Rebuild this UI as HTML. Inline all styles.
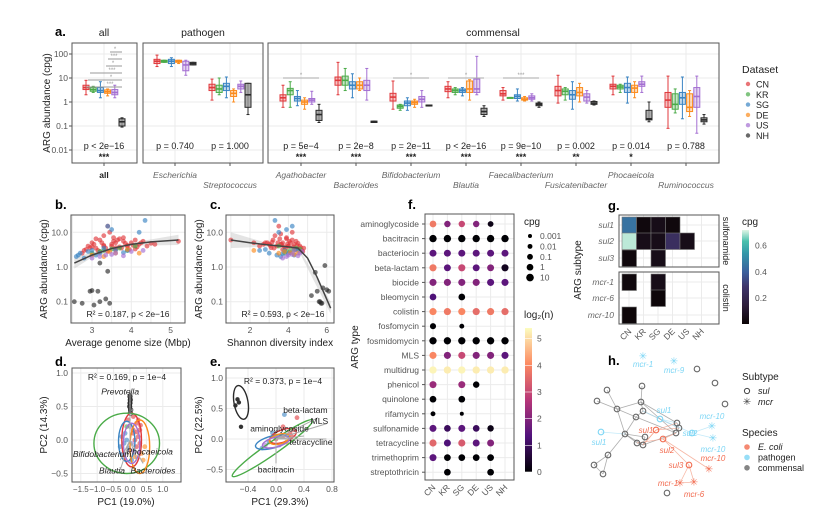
<!DOCTYPE html>
<html><head><meta charset="utf-8"><style>
body{margin:0;background:#fff}
svg{display:block;font-family:"Liberation Sans",sans-serif}
</style></head><body>
<svg id="fig" width="831" height="511" viewBox="0 0 831 511" xmlns="http://www.w3.org/2000/svg"></svg>
<script>
// ---------- Panel a data ----------
const datasets=["CN","KR","SG","DE","US","NH"];
const dsColors=["#e0393c","#4aab48","#3a84c3","#fb8b1d","#a46fd2","#2a2a2a"];
const groups=["all","Escherichia","Streptococcus","Agathobacter","Bacteroides","Bifidobacterium","Blautia","Faecalibacterium","Fusicatenibacter","Phocaeicola","Ruminococcus"];
const groupPvals=["p < 2e\u221216","p = 0.740","p = 1.000","p = 5e\u22124","p = 2e\u22128","p = 2e\u221211","p < 2e\u221216","p = 9e\u221210","p = 0.002","p = 0.014","p = 0.788"];
const groupStars=["***","","","***","***","***","***","***","**","*",""];
const med=[[4,3.3,3,2.7,2.5,0.15],[50,50,50,50,35,40],[4,3.5,4.5,2.3,4.5,2],[1.5,3,1.4,1,1.2,0.3],[8,8,5,5,5,0.15],[1.6,0.65,0.9,0.95,1.3,0.7],[3.5,3,3,3.5,3.5,0.4],[2.2,1.5,1.7,1.3,1.5,0.8],[3,2.8,2,2.5,1.6,0.9],[4.5,4.2,4,3.8,5.5,0.2],[1.2,0.8,1.5,0.6,1.7,0.18]];
const q1=[[3.3,2.8,2.5,2.3,2,0.1],[40,45,40,45,20,35],[3,2.5,3,1.7,3.5,0.6],[1.1,2,1.1,0.8,1,0.17],[5,5,3.5,3.5,3,0.14],[1.1,0.55,0.7,0.8,1,0.68],[2.7,2.5,2.5,2.5,2.5,0.3],[1.8,1.48,1.4,1.2,1.3,0.7],[1.8,2,1.3,1.8,1.1,0.8],[3.5,3.5,2.5,2.5,4.5,0.18],[0.6,0.5,0.8,0.4,0.6,0.15]];
const q3=[[5,4,4,3.2,3.3,0.2],[60,55,60,55,50,45],[5.5,5,6,3,5.5,6],[2,3.7,1.7,1.2,1.4,0.45],[11,12,7,7,8,0.16],[2.3,0.75,1.1,1.1,1.7,0.75],[4.5,3.5,3.5,7.5,9,0.55],[3,1.55,2,1.5,1.8,0.9],[4.5,3.5,3,4,2.2,1.05],[5.5,5,6,5,7,0.45],[2.5,2.2,2.5,2.2,4,0.22]];
const wlo=[[2,2.5,1.5,1.8,1.5,0.09],[30,45,30,40,13,35],[1.2,2,1.5,1,2.5,0.3],[0.6,0.6,0.7,0.5,0.8,0.14],[2,3,1.5,3,1.2,0.14],[0.5,0.45,0.45,0.6,0.6,0.68],[1.5,2,1.8,1.2,2,0.25],[1.2,1.48,1.1,1.1,1.1,0.6],[0.9,1.2,0.5,1,0.9,0.75],[2,2.5,0.9,1.5,2.5,0.15],[0.08,0.35,0.2,0.25,0.05,0.12]];
const whi=[[8,4.5,7,3.5,5,0.22],[90,55,70,55,55,45],[9,10,11,3.5,7.5,6],[5,7,3,1.5,2.8,0.8],[45,25,15,10,25,0.16],[7.5,0.8,1.5,1.3,3,0.75],[7,4,4,8.5,80,0.7],[4,1.55,3.5,1.7,2.2,1],[13,4,7,6,3,1.1],[12,5.5,11,7,12,1],[12,3.5,11,3,12,0.3]];
const groupCenters=[104,175,230,301,356,411,466,521,576,631,686];
const aTicks=[100,10,1,0.1,0.01];
const aTickLabels=["100","10","1","0.1","0.01"];

// ---------- Panel b/c data ----------
const bX=[[2.8,2.9,3.0,3.1,3.2,3.3,3.4,3.5,3.6,3.7,3.8,3.9,4.0,4.1,4.2,4.3,4.5,5.2,3.0,3.3,3.6,3.45,3.9,3.2,2.95,3.7,4.1,4.4,3.55,2.75,3.05,3.15,3.25,3.35,3.5,3.65,3.75,3.85,3.95,4.05,4.15,4.25,3.1,3.4,3.8,4.6,2.85,3.55,3.3,3.6],[3.0,3.3,3.7,4.1,3.5,3.9,3.2],[2.6,2.7,2.8,3.0,3.2,3.4,3.5,3.6,4.2,4.35,3.9,3.1,2.65,2.9,3.3,3.8],[3.3,3.6,3.9,4.2,3.0,3.45],[3.2,3.5,3.8,4.0,4.3,3.0,3.6,3.35],[2.55,2.75,2.95,3.0,3.05,3.15,3.2,3.35,3.4,3.45,3.2]];
const bY=[[3,4,5,3.5,6,4,15,4.5,5,3.8,7,4,5,6,4.5,5.5,4.8,5.5,3.8,8,3.2,10,4.2,2.8,3.6,6.5,3.3,4,5.5,2.5,4.5,3,5,3.5,4,6,3.5,4.8,3.2,4.2,3.8,5,6.5,2.8,5.5,4.5,3.2,7,4.2,3.6],[2.5,3,3.5,4,3.3,3,2.8],[2,2.5,1.8,3,2.5,15,12,3,10,22,3,2.2,2.2,2.8,3.5,2.6],[2,2.5,3.2,2.5,2.2,2.8],[2,2.3,2.1,2.8,3,1.8,2.5,2.2],[0.1,0.09,0.2,0.21,0.08,0.2,0.1,0.12,0.75,0.09,1.3]];
const bFitX=[2.55,3,3.5,4,4.5,5.2];
const bFitY=[1.3,2.2,3.4,4.5,5.3,6];
const cX=[[1,2.5,2.8,3,3.2,3.4,3.5,3.6,3.7,3.8,3.9,4,4.1,4.2,4.3,4.4,4.5,4.6,4.7,3.3,3.7,4.2,2.2,3.1,4.8,3.9,4.4,3.6,4.0,2.9,3.05,3.25,3.45,3.65,3.85,4.05,4.25,4.45,4.65,3.15,3.55,3.95,4.35,4.75,2.7],[3.8,4.1,4.4,3.5,4.6,3.9,4.3],[2.5,3,3.4,3.6,3.8,4,4.2,4.5,3.3,3.9,4.3,3.5,3.7,4.1,2.8],[2.2,3.5,4.1,4.5,3.8,4.3],[3.9,4.2,4.5,4.7,4.3,3.7,4.0,4.6],[5.2,5.5,5.6,5.7,5.8,5.9,6.0,6.1,5.4,5.65,5.75]];
const cY=[[6,4,5,4.5,6,4,15,4.5,5,3.8,7,4,5,6,4.5,5.5,4.8,4,3,8,3.2,10,5,3.6,3.5,6.5,3.3,9,4,5,4.2,3.5,5,4.5,3.4,5.5,3.8,4.2,3.6,5.2,6.5,4.6,3.2,2.8,4.5],[2.5,3,3.5,4,3.3,2.8,3.1],[3,2.5,2.2,2,3,2.5,15,3,22,12,2.2,10,2.4,2.6,3.2],[3,2.5,2.6,2.5,2.8,2.3],[2,2.3,2.1,2.8,3,1.8,2.2,2.5],[0.15,0.2,0.1,0.09,0.25,1.1,0.22,0.2,0.7,0.1,0.09]];
const cFitX=[1,2,3,4,4.5,5,5.5,6.2];
const cFitY=[6,5,4.3,3.8,3.5,1.8,0.5,0.065];

// ---------- Panel d/e data ----------
const dPtsX=[0.1,-0.1,0.2,0.0,-0.2,0.3,0.15,-0.05,0.05,0.25,-0.15,0.35,0.4,0.1,-0.25,0.2,0.0,0.3,-0.1,0.15,0.05,0.45,-0.3,0.1,0.25,-0.05,0.12,0.22,-0.18,0.32];
const dPtsY=[0.1,0.0,-0.1,0.2,-0.2,0.15,-0.25,0.3,-0.05,0.05,0.1,-0.2,-0.3,0.35,0.05,0.25,-0.15,-0.05,0.2,0.0,-0.3,-0.1,-0.1,0.15,0.3,-0.12,-0.18,0.12,-0.05,0.22];
const dPtsC=[0,2,0,4,2,0,3,0,4,0,2,3,3,0,2,0,4,0,1,0,2,3,2,0,0,2,4,0,2,0];
const dNhX=[0,0.01,-0.01,0.02,0,0.01];
const dNhY=[0.55,0.6,0.5,0.45,0.65,0.4];
const dEllCx=[0.05,-0.1,-0.1,0.3,0.05,0.0];
const dEllCy=[0.0,-0.05,-0.02,-0.1,-0.05,0.55];
const dEllRx=[0.3,1.0,0.25,0.3,0.25,0.04];
const dEllRy=[0.4,0.45,0.3,0.4,0.3,0.15];
const dArrowName=["Prevotella","Bifidobacterium","Blautia","Phocaeicola","Bacteroides"];
const dArrowX=[0.0,-0.3,-0.3,0.2,0.4];
const dArrowY=[0.75,-0.3,-0.45,-0.3,-0.35];
const ePtsX=[-0.1,0,0.1,0.2,0.05,-0.05,0.15,0.25,0.3,-0.15,0.1,0.0,0.2,0.12,-0.2,0.22];
const ePtsY=[-0.05,0.0,0.05,0.1,-0.1,0.1,-0.05,0.15,0.35,-0.1,0.2,0.05,0.0,0.4,-0.15,0.05];
const ePtsC=[2,0,0,0,4,2,3,0,0,4,0,1,0,2,2,0];
const eNhX=[-0.55,-0.53,-0.58,-0.5];
const eNhY=[0.65,0.6,0.55,0.2];
const eEllCx=[0.1,-0.05,-0.05,0.05,0.0,-0.5];
const eEllCy=[0.05,-0.15,-0.05,0.0,-0.05,0.6];
const eEllRx=[0.2,0.7,0.25,0.15,0.2,0.1];
const eEllRy=[0.1,0.1,0.1,0.08,0.08,0.28];
const eEllAng=[-20,-35,-15,-15,-15,-10];
const eArrowName=["beta-lactam","MLS","tetracycline","aminoglycoside","bacitracin"];
const eArrowX=[0.6,0.72,0.72,0.4,0.0];
const eArrowY=[0.35,0.25,0.0,0.05,-0.4];

// ---------- Panel f data ----------
const argTypes=["aminoglycoside","bacitracin","bacteriocin","beta-lactam","biocide","bleomycin","colistin","fosfomycin","fosmidomycin","MLS","multidrug","phenicol","quinolone","rifamycin","sulfonamide","tetracycline","trimethoprim","streptothricin"];
const fLog2=[[3.8,2,3,2,0.2,null],[0,0,0,0,0,0],[1.5,1.5,1.5,1.5,1.5,1.5],[3.8,1.5,3,1.5,2,0.3],[2,2,2,2,1.5,1.5],[1.3,null,0,null,null,null],[4,3.8,4,3.6,3.8,3.6],[0,null,0,null,null,null],[0,0,0,0,0,0],[4,2,3,2,2,1.5],[5.3,5.2,5.3,5.2,5.2,5.2],[2.3,null,2.3,0,null,null],[0,null,0,null,null,null],[0,null,0,null,null,null],[1.5,1,1.5,1,0.2,null],[3.5,1.3,3.3,1.5,2,null],[1.5,0,0,0,0,null],[null,0,null,null,0,null]];
const fCpg=[[1,0.5,0.5,0.5,0.1,null],[5,5,5,5,5,5],[2,2,2,2,2,2],[3,2,3,2,2,3],[3,3,3,3,3,3],[1,null,1,null,null,null],[3,3,3,3,3,3],[0.2,null,0.01,null,null,null],[5,5,5,5,5,5],[3,3,3,3,3,3],[5,5,5,5,5,5],[2,null,2,0.5,null,null],[1,null,1,null,null,null],[0.01,null,0.001,null,null,null],[2,1,2,1,0.5,null],[3,2,3,2,2,null],[2,1,1,1,1,null],[null,1,null,null,1,null]];
const sizeLegend=[0.001,0.01,0.1,1,10];
const log2Ticks=[0,1,2,3,4,5];

// ---------- Panel g data ----------
const subtypes=["sul1","sul2","sul3","mcr-1","mcr-6","mcr-10"];
const gVals=[[0.45,0.02,0.05,0.02,null,null],[0.7,0.05,0.05,0.25,0.05,null],[0.02,null,0.05,null,null,null],[0.02,null,0.05,null,null,null],[null,null,0.01,null,null,null],[0.01,null,null,null,null,null]];
const gTicks=[0.2,0.4,0.6];

// ---------- Panel h data ----------
const hX=[697,715,725,642,607,597,617,641,643,636,625,637,643,645,677,679,676,608,594,603,667, 643,674,660,692,601,712,713, 656,663,689,709,680,694];
const hY=[369,383,404,386,390,401,409,402,411,417,434,443,445,437,423,428,433,455,465,474,493, 356,361,419,433,432,426,438, 430,439,465,469,483,482];
const hSpecies=[2,2,2,2,2,2,2,2,2,2,2,2,2,2,2,2,2,2,2,2,2, 1,1,1,1,1,1,1, 0,0,0,0,0,0];
const hStar=[0,0,0,0,0,0,0,0,0,0,0,0,0,0,0,0,0,0,0,0,0, 1,1,0,0,0,1,1, 0,0,0,1,1,1];
const hLabel=["","","","","","","","","","","","","","","","","","","","","", "mcr-1","mcr-9","sul1","sul2","sul1","mcr-10","mcr-10", "sul1","sul2","sul3","mcr-10","mcr-1","mcr-6"];
const hLabDx=[0,0,0,0,0,0,0,0,0,0,0,0,0,0,0,0,0,0,0,0,0, 0,0,4,-2,-2,0,0, -10,4,-13,4,-12,0];
const hLabDy=[0,0,0,0,0,0,0,0,0,0,0,0,0,0,0,0,0,0,0,0,0, 11,12,-6,3,13,-7,14, 3,14,3,-8,3,15];
const hEdgeA=[3,4,5,6,6,7,8,9,10,10,11,12,13,6,7,8,9,14,15,16,17,17,18,10,23,23,23,24,24,25,28,28,28,29,29,30,30,30,31,32,8,12,7];
const hEdgeB=[7,6,6,7,10,8,9,10,11,12,12,13,10,9,14,15,16,15,16,12,18,19,19,17,14,15,24,26,27,10,14,15,12,16,11,29,32,33,29,33,23,28,16];

// ---------- helpers ----------
const svg=document.getElementById('fig');
const NS="http://www.w3.org/2000/svg";
function mk(tag,attrs,parent){const e=document.createElementNS(NS,tag);for(const k in attrs)e.setAttribute(k,attrs[k]);(parent||svg).appendChild(e);return e;}
function txt(s,x,y,opt,parent){const o=Object.assign({x:x,y:y,'font-size':9,fill:'#333'},opt||{});const t=mk('text',o,parent);t.textContent=s;return t;}
function lerpHex(stops,t){t=Math.max(0,Math.min(1,t));for(let i=1;i<stops.length;i++){if(t<=stops[i][0]){const a=stops[i-1],b=stops[i];const f=(t-a[0])/(b[0]-a[0]);const ca=a[1].match(/\w\w/g).map(h=>parseInt(h,16)),cb=b[1].match(/\w\w/g).map(h=>parseInt(h,16));return 'rgb('+ca.map((v,j)=>Math.round(v+(cb[j]-v)*f)).join(',')+')';}}return stops[stops.length-1][1];}
const magma=[[0,'#000004'],[0.25,'#51127c'],[0.5,'#b73779'],[0.75,'#fc8961'],[1,'#fcfdbf']];
const mako=[[0,'#0b0405'],[0.2,'#2e1e3c'],[0.4,'#3e356b'],[0.55,'#3b5e9c'],[0.75,'#3497a9'],[0.88,'#49c1ad'],[1,'#def5e5']];

// ---------- Panel a ----------
const ay=v=>102-24*Math.log10(v);
const aPanels=[[72,137,"all",104],[143,263,"pathogen",203],[268,719,"commensal",493]];
txt("a.",55,36,{'font-size':13,'font-weight':'bold',fill:'#000'});
aPanels.forEach((p,pi)=>{
  const g=mk('g',{});
  
  
  mk('rect',{x:p[0],y:43,width:p[1]-p[0],height:120,fill:'#fff'},g);
  aTicks.forEach(v=>mk('line',{x1:p[0],x2:p[1],y1:ay(v),y2:ay(v),stroke:'#ebebeb','stroke-width':1},g));
  groupCenters.forEach(c=>{if(c>p[0]&&c<p[1])mk('line',{x1:c,x2:c,y1:43,y2:163,stroke:'#ebebeb'},g);});
  mk('rect',{x:p[0],y:43,width:p[1]-p[0],height:120,fill:'none',stroke:'#555','stroke-width':1},g);
  const t=txt(p[2],p[3],36,{'font-size':10.5,'text-anchor':'middle',fill:'#222'});
  
});
aTicks.forEach((v,i)=>{
  const t=txt(aTickLabels[i],68,ay(v)+3,{'text-anchor':'end','font-size':8.5,fill:'#555'});
  
  mk('line',{x1:69,x2:72,y1:ay(v),y2:ay(v),stroke:'#555'});
});
const aYT=txt("ARG abundance (cpg)",0,0,{'font-size':10,'text-anchor':'middle',fill:'#222',transform:'translate(50,103) rotate(-90)'});

groups.forEach((gname,gi)=>{
  const c=groupCenters[gi];
  const g=mk('g',{});
  
  
  datasets.forEach((d,di)=>{
    const x=c+(di-2.5)*7.2;const col=dsColors[di];
    const b=mk('g',{},g);
    
    
    mk('line',{x1:x,x2:x,y1:ay(wlo[gi][di]),y2:ay(whi[gi][di]),stroke:col,'stroke-width':1},b);
    mk('line',{x1:x-1.5,x2:x+1.5,y1:ay(wlo[gi][di]),y2:ay(wlo[gi][di]),stroke:col},b);
    mk('line',{x1:x-1.5,x2:x+1.5,y1:ay(whi[gi][di]),y2:ay(whi[gi][di]),stroke:col},b);
    mk('rect',{x:x-3,y:ay(q3[gi][di]),width:6,height:Math.max(1,ay(q1[gi][di])-ay(q3[gi][di])),fill:di==5?'#9a9a9a':col,'fill-opacity':di==5?0.8:0.3,stroke:col,'stroke-width':1},b);
    mk('line',{x1:x-3,x2:x+3,y1:ay(med[gi][di]),y2:ay(med[gi][di]),stroke:col,'stroke-width':1.6},b);
  });
  const pt=txt(groupPvals[gi],c,149,{'text-anchor':'middle','font-size':9,fill:'#222'});
  
  if(groupStars[gi]){const st=txt(groupStars[gi],c,160,{'text-anchor':'middle','font-size':9,fill:'#222','font-weight':'bold'});}
  mk('line',{x1:c,x2:c,y1:163,y2:166,stroke:'#555'});
  const ly=(gi===0)?178:((gi===2||gi===4||gi===6||gi===8||gi===10)?188:178);
  const xl=txt(gname,c,ly,{'text-anchor':'middle','font-size':8.5,fill:gi===0?'#222':'#666','font-style':gi===0?'normal':'italic','font-weight':gi===0?'bold':'normal'});
  
});
const brY=[87,80,73,66,59,52];
brY.forEach((y,i)=>{const x2=104+2.5*7.2;const x1=104-2.5*7.2+i*2;const l=mk('line',{x1:x1+(i>2?14:0),x2:x2,y1:y,y2:y,stroke:'#999','stroke-width':1});txt(i%2?'*':'***',(x1+x2)/2+6,y-1,{'font-size':6,fill:'#999','text-anchor':'middle'});});
[[301,78,'*'],[466,78,'*'],[521,78,'***'],[411,78,'*']].forEach(b=>{const l=mk('line',{x1:b[0]-18,x2:b[0]+18,y1:b[1],y2:b[1],stroke:'#aaa'});txt(b[2],b[0],b[1]-1,{'font-size':6,fill:'#999','text-anchor':'middle'});});
txt("Dataset",742,73,{'font-size':10.5,fill:'#222'});
datasets.forEach((d,i)=>{
  const g=mk('g',{});
  
  
  mk('circle',{cx:748,cy:84+i*10.3,r:2.2,fill:dsColors[i],'fill-opacity':0.7},g);
  txt(d,756,87.5+i*10.3,{'font-size':9,fill:'#222'},g);
});

// ---------- generic helpers ----------
function frame(x0,x1,y0,y1,name){const g=mk('g',{});return g;}
function panelBox(x0,x1,y0,y1,g){mk('rect',{x:x0,y:y0,width:x1-x0,height:y1-y0,fill:'none',stroke:'#555'},g);}
function grid(x0,x1,y0,y1,xs,ys,g){xs.forEach(x=>mk('line',{x1:x,x2:x,y1:y0,y2:y1,stroke:'#ebebeb'},g));ys.forEach(y=>mk('line',{x1:x0,x2:x1,y1:y,y2:y,stroke:'#ebebeb'},g));}
function polyline(xs,ys,fx,fy,g,attrs){const pts=xs.map((x,i)=>fx(x)+','+fy(ys[i])).join(' ');return mk('polyline',Object.assign({points:pts,fill:'none'},attrs),g);}

// Panel b
const bx=v=>92+(v-3)*39.3, by=v=>267-34.7*Math.log10(v);
const gb=frame(71,185,215,323,'panel-b');
grid(71,185,215,323,[bx(3),bx(4),bx(5),bx(2.5),bx(3.5),bx(4.5)],[by(10),by(1),by(0.1)],gb);
mk('path',{d:'M'+bx(2.55)+','+by(0.9)+' L'+bx(3)+','+by(1.9)+' L'+bx(4)+','+by(4.1)+' L'+bx(5.2)+','+by(4.3)+' L'+bx(5.2)+','+by(8.5)+' L'+bx(4)+','+by(5)+' L'+bx(3)+','+by(2.6)+' L'+bx(2.55)+','+by(1.9)+'Z',fill:'#bbb','fill-opacity':0.4},gb);
bX.forEach((arr,di)=>arr.forEach((x,i)=>{const c=mk('circle',{cx:bx(x),cy:by(bY[di][i]),r:2.4,fill:dsColors[di],'fill-opacity':0.65},gb);}));
polyline(bFitX,bFitY,bx,by,gb,{stroke:'#444','stroke-width':1.5});
panelBox(71,185,215,323,gb);
txt("b.",55,209,{'font-size':13,'font-weight':'bold',fill:'#000'});
[10,1,0.1].forEach((v,i)=>txt(["10.0","1.0","0.1"][i],68,by(v)+3,{'text-anchor':'end','font-size':8.5,fill:'#555'}));
[3,4,5].forEach(v=>txt(String(v),bx(v),333,{'text-anchor':'middle','font-size':8.5,fill:'#555'}));
txt("R\u00b2 = 0.187,  p < 2e\u221216",128,317,{'text-anchor':'middle','font-size':8.5,fill:'#222'});
txt("ARG abundance (cpg)",0,0,{'font-size':10,'text-anchor':'middle',fill:'#222',transform:'translate(47,269) rotate(-90)'});
txt("Average genome size (Mbp)",128,346,{'font-size':10,'text-anchor':'middle',fill:'#222'});

// Panel c
const cx=v=>250+(v-2)*19.2, cy=by;
const gc=frame(226,334,215,323,'panel-c');
grid(226,334,215,323,[cx(2),cx(4),cx(6),cx(1),cx(3),cx(5)],[cy(10),cy(1),cy(0.1)],gc);
mk('path',{d:'M'+cx(1)+','+cy(3.5)+' L'+cx(3)+','+cy(3.9)+' L'+cx(4.5)+','+cy(3.2)+' L'+cx(6.2)+','+cy(0.045)+' L'+cx(6.2)+','+cy(0.1)+' L'+cx(4.5)+','+cy(3.8)+' L'+cx(3)+','+cy(4.7)+' L'+cx(1)+','+cy(10)+'Z',fill:'#bbb','fill-opacity':0.4},gc);
cX.forEach((arr,di)=>arr.forEach((x,i)=>{const c=mk('circle',{cx:cx(x),cy:cy(cY[di][i]),r:2.4,fill:dsColors[di],'fill-opacity':0.65},gc);}));
polyline(cFitX,cFitY,cx,cy,gc,{stroke:'#444','stroke-width':1.5});
panelBox(226,334,215,323,gc);
txt("c.",210,209,{'font-size':13,'font-weight':'bold',fill:'#000'});
[10,1,0.1].forEach((v,i)=>txt(["10.0","1.0","0.1"][i],223,cy(v)+3,{'text-anchor':'end','font-size':8.5,fill:'#555'}));
[2,4,6].forEach(v=>txt(String(v),cx(v),333,{'text-anchor':'middle','font-size':8.5,fill:'#555'}));
txt("R\u00b2 = 0.593,  p < 2e\u221216",283,317,{'text-anchor':'middle','font-size':8.5,fill:'#222'});
txt("ARG abundance (cpg)",0,0,{'font-size':10,'text-anchor':'middle',fill:'#222',transform:'translate(202,269) rotate(-90)'});
txt("Shannon diversity index",280,346,{'font-size':10,'text-anchor':'middle',fill:'#222'});

// Panel d
const dx=v=>130+v*32.8, dy=v=>440-v*67;
const gd=frame(72,181,368,482,'panel-d');
grid(72,181,368,482,[-1.5,-1,-0.5,0,0.5,1].map(dx),[1,0.5,0,-0.5].map(dy),gd);
dPtsX.forEach((x,i)=>{const c=mk('circle',{cx:dx(x),cy:dy(dPtsY[i]),r:2.4,fill:dsColors[dPtsC[i]],'fill-opacity':0.6},gd);});
dNhX.forEach((x,i)=>mk('circle',{cx:dx(x),cy:dy(dNhY[i]),r:2.2,fill:'none',stroke:'#555'},gd));
dEllCx.forEach((c,i)=>{const e=mk('ellipse',{cx:dx(c),cy:dy(dEllCy[i]),rx:dEllRx[i]*32.8,ry:dEllRy[i]*67,fill:'none',stroke:dsColors[i],'stroke-width':1.4},gd);});
dArrowName.forEach((n,i)=>{mk('line',{x1:dx(0),y1:dy(0),x2:dx(dArrowX[i]),y2:dy(dArrowY[i]),stroke:'#aaa'},gd);});
txt("Prevotella",dx(-0.3),dy(0.68),{'font-size':8.5,'font-style':'italic','text-anchor':'middle',fill:'#222'},gd);
txt("Bifidobacterium",dx(-0.85),dy(-0.25),{'font-size':8.5,'font-style':'italic','text-anchor':'middle',fill:'#222'},gd);
txt("Blautia",dx(-0.55),dy(-0.5),{'font-size':8.5,'font-style':'italic','text-anchor':'middle',fill:'#222'},gd);
txt("Phocaeicola",dx(0.6),dy(-0.22),{'font-size':8.5,'font-style':'italic','text-anchor':'middle',fill:'#222'},gd);
txt("Bacteroides",dx(0.7),dy(-0.5),{'font-size':8.5,'font-style':'italic','text-anchor':'middle',fill:'#222'},gd);
txt("R\u00b2 = 0.169,  p = 1e\u22124",127,380,{'text-anchor':'middle','font-size':8.5,fill:'#222'},gd);
panelBox(72,181,368,482,gd);
txt("d.",55,366,{'font-size':13,'font-weight':'bold',fill:'#000'});
[1,0.5,0,-0.5].forEach((v,i)=>txt(["1.0","0.5","0.0","\u22120.5"][i],68,dy(v)+3,{'text-anchor':'end','font-size':8.5,fill:'#555'}));
[-1.5,-1,-0.5,0,0.5,1].forEach((v,i)=>txt(["\u22121.5","\u22121.0","\u22120.5","0.0","0.5","1.0"][i],dx(v),492,{'text-anchor':'middle','font-size':8,fill:'#555'}));
txt("PC2 (14.3%)",0,0,{'font-size':10,'text-anchor':'middle',fill:'#222',transform:'translate(47,425) rotate(-90)'});
txt("PC1 (19.0%)",126,505,{'font-size':10,'text-anchor':'middle',fill:'#222'});

// Panel e
const ex=v=>276+v*70, ey=v=>439-v*61;
const ge=frame(226,334,368,482,'panel-e');
grid(226,334,368,482,[-0.4,0,0.4,0.8].map(ex),[1,0.5,0,-0.5].map(ey),ge);
ePtsX.forEach((x,i)=>{const c=mk('circle',{cx:ex(x),cy:ey(ePtsY[i]),r:2.4,fill:dsColors[ePtsC[i]],'fill-opacity':0.6},ge);});
eNhX.forEach((x,i)=>mk('circle',{cx:ex(x),cy:ey(eNhY[i]),r:2.2,fill:'#333'},ge));
eEllCx.forEach((c,i)=>{const e=mk('ellipse',{cx:ex(c),cy:ey(eEllCy[i]),rx:eEllRx[i]*70,ry:eEllRy[i]*61,fill:'none',stroke:dsColors[i],'stroke-width':1.4,transform:'rotate('+eEllAng[i]+' '+ex(c)+' '+ey(eEllCy[i])+')'},ge);});
eArrowName.forEach((n,i)=>{mk('line',{x1:ex(0),y1:ey(0),x2:ex(eArrowX[i]),y2:ey(eArrowY[i]),stroke:'#aaa'},ge);});
txt("beta-lactam",ex(0.42),ey(0.43),{'font-size':8.5,'text-anchor':'middle',fill:'#222'},ge);
txt("MLS",ex(0.62),ey(0.25),{'font-size':8.5,'text-anchor':'middle',fill:'#222'},ge);
txt("tetracycline",ex(0.5),ey(-0.1),{'font-size':8.5,'text-anchor':'middle',fill:'#222'},ge);
txt("aminoglycoside",ex(0.05),ey(0.12),{'font-size':8.5,'text-anchor':'middle',fill:'#222'},ge);
txt("bacitracin",ex(0.0),ey(-0.55),{'font-size':8.5,'text-anchor':'middle',fill:'#222'},ge);
txt("R\u00b2 = 0.373,  p = 1e\u22124",283,384,{'text-anchor':'middle','font-size':8.5,fill:'#222'},ge);
panelBox(226,334,368,482,ge);
txt("e.",210,366,{'font-size':13,'font-weight':'bold',fill:'#000'});
[1,0.5,0,-0.5].forEach((v,i)=>txt(["1.0","0.5","0.0","\u22120.5"][i],223,ey(v)+3,{'text-anchor':'end','font-size':8.5,fill:'#555'}));
[-0.4,0,0.4,0.8].forEach((v,i)=>txt(["\u22120.4","0.0","0.4","0.8"][i],ex(v),492,{'text-anchor':'middle','font-size':8.5,fill:'#555'}));
txt("PC2 (22.5%)",0,0,{'font-size':10,'text-anchor':'middle',fill:'#222',transform:'translate(202,425) rotate(-90)'});
txt("PC1 (29.3%)",280,505,{'font-size':10,'text-anchor':'middle',fill:'#222'});

// Panel f
const fx=i=>433+i*14.4, fy=i=>224+i*14.6;
const fr=c=>2+0.45*(Math.log10(c)+3);
const gf=frame(425,514,214,480,'panel-f');
grid(425,514,214,480,datasets.map((d,i)=>fx(i)),argTypes.map((d,i)=>fy(i)),gf);
argTypes.forEach((a,r)=>{
  const t=txt(a,419,fy(r)+3,{'text-anchor':'end','font-size':8.5,fill:'#555'});
  
  mk('line',{x1:422,x2:425,y1:fy(r),y2:fy(r),stroke:'#555'});
  datasets.forEach((d,c)=>{
    const v=fLog2[r][c];if(v===null)return;
    const dot=mk('circle',{cx:fx(c),cy:fy(r),r:fr(fCpg[r][c]),fill:lerpHex(magma,v/5.4)},gf);
    
    
  });
});
panelBox(425,514,214,480,gf);
datasets.forEach((d,i)=>txt(d,0,0,{'font-size':8.5,fill:'#555','text-anchor':'end',transform:'translate('+(fx(i)+3)+',488) rotate(-45)'}));
txt("f.",408,209,{'font-size':13,'font-weight':'bold',fill:'#000'});
txt("ARG type",0,0,{'font-size':10,'text-anchor':'middle',fill:'#222',transform:'translate(358,347) rotate(-90)'});
txt("cpg",524,225,{'font-size':10,fill:'#222'});
sizeLegend.forEach((v,i)=>{const y=236+i*10.4;mk('circle',{cx:530,cy:y,r:fr(v),fill:'#000'});txt(String(v),540,y+3,{'font-size':8.5,fill:'#555'});});
txt("log\u2082(n)",524,318,{'font-size':10,fill:'#222'});
const defs=mk('defs',{});
const lg=mk('linearGradient',{id:'magmaG',x1:0,y1:1,x2:0,y2:0},defs);
magma.forEach(s=>mk('stop',{offset:s[0],'stop-color':s[1]},lg));
const mg=mk('linearGradient',{id:'makoG',x1:0,y1:1,x2:0,y2:0},defs);
mako.forEach(s=>mk('stop',{offset:s[0],'stop-color':s[1]},mg));
mk('rect',{x:525,y:328,width:7,height:144,fill:'url(#magmaG)'});
log2Ticks.forEach(v=>{const y=472-v/5.4*144;txt(String(v),537,y+3,{'font-size':8.5,fill:'#555'});mk('line',{x1:525,x2:532,y1:y,y2:y,stroke:'#fff','stroke-width':0.6});});

// Panel g
const gx=i=>622+i*14.5;
const gyRow=[217,233,250,274,290,307];
const gg=frame(619,719,215,324,'panel-g');
grid(619,719,215,267,datasets.map((d,i)=>gx(i)+7),[225,241,258],gg);
grid(619,719,272,324,datasets.map((d,i)=>gx(i)+7),[282,298,315],gg);
subtypes.forEach((s,r)=>{
  const t=txt(s,614,gyRow[r]+11,{'text-anchor':'end','font-size':8.5,fill:'#666','font-style':'italic'});
  
  datasets.forEach((d,c)=>{const v=gVals[r][c];if(v===null)return;
    const tile=mk('rect',{x:gx(c),y:gyRow[r],width:14.5,height:16.5,fill:lerpHex(mako,v/0.72),stroke:'#777','stroke-width':0.6},gg);
    
    });
});
mk('rect',{x:619,y:215,width:100,height:52,fill:'none',stroke:'#555'},gg);
mk('rect',{x:619,y:272,width:100,height:52,fill:'none',stroke:'#555'},gg);
txt("sulfonamide",0,0,{'font-size':9,fill:'#222','text-anchor':'middle',transform:'translate(723,241) rotate(90)'});
txt("colistin",0,0,{'font-size':9,fill:'#222','text-anchor':'middle',transform:'translate(723,298) rotate(90)'});
datasets.forEach((d,i)=>txt(d,0,0,{'font-size':8.5,fill:'#555','text-anchor':'end',transform:'translate('+(gx(i)+10)+',332) rotate(-45)'}));
txt("g.",608,210,{'font-size':13,'font-weight':'bold',fill:'#000'});
txt("ARG subtype",0,0,{'font-size':10,'text-anchor':'middle',fill:'#222',transform:'translate(581,270) rotate(-90)'});
txt("cpg",742,225,{'font-size':10,fill:'#222'});
mk('rect',{x:742,y:230,width:7,height:94,fill:'url(#makoG)'});
gTicks.forEach(v=>{const y=324-v/0.72*94;txt(String(v),755,y+3,{'font-size':8.5,fill:'#555'});});

// Panel h
const spCol=['#f26b4f','#7dd6f5','#666'];
const gh=frame(590,730,350,500,'panel-h');
hEdgeA.forEach((a,i)=>{const b=hEdgeB[i];const col=hSpecies[a]===0||hSpecies[b]===0?'#f4a58f':(hSpecies[a]===1||hSpecies[b]===1?'#b5e5f7':'#999');mk('line',{x1:hX[a],y1:hY[a],x2:hX[b],y2:hY[b],stroke:col,'stroke-width':0.8,'stroke-opacity':0.8},gh);});
hX.forEach((x,i)=>{const col=spCol[hSpecies[i]];let n;
  if(hStar[i]){n=txt('\u2733',x,hY[i]+3.5,{'font-size':10,'text-anchor':'middle',fill:col},gh);}
  else n=mk('circle',{cx:x,cy:hY[i],r:2.8,fill:'none',stroke:col,'stroke-width':1.1},gh);
  
  
  if(hLabel[i])txt(hLabel[i],x+hLabDx[i],hY[i]+hLabDy[i],{'font-size':8,'font-style':'italic',fill:col,'text-anchor':'middle'},gh);
});
txt("h.",608,365,{'font-size':13,'font-weight':'bold',fill:'#000'});
txt("Subtype",742,380,{'font-size':10,fill:'#222'});
mk('circle',{cx:747,cy:391,r:2.6,fill:'none',stroke:'#444'});txt("sul",758,394,{'font-size':9,'font-style':'italic',fill:'#222'});
txt('\u2733',747,405,{'font-size':10,'text-anchor':'middle',fill:'#444'});txt("mcr",758,405,{'font-size':9,'font-style':'italic',fill:'#222'});
txt("Species",742,436,{'font-size':10,fill:'#222'});
["E. coli","pathogen","commensal"].forEach((s,i)=>{const y=447+i*10.4;mk('circle',{cx:747,cy:y,r:2.8,fill:spCol[i],'fill-opacity':0.8});txt(s,758,y+3,{'font-size':9,fill:'#222','font-style':i===0?'italic':'normal'});});
</script>
</body></html>
